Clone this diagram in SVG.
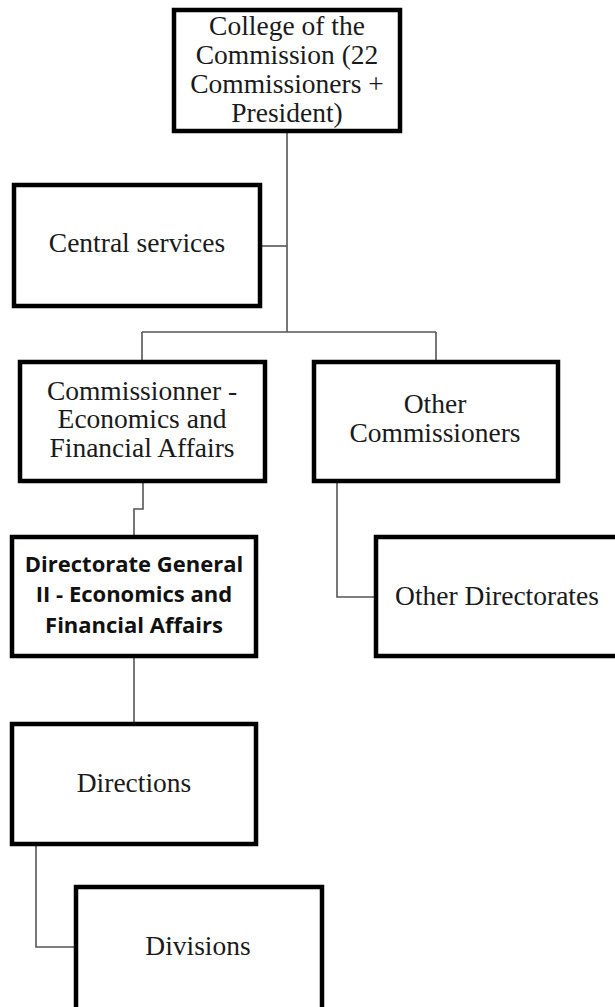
<svg xmlns="http://www.w3.org/2000/svg" width="615" height="1007" viewBox="0 0 615 1007">
<style>
.box{fill:#fff;stroke:#000;stroke-width:4.5}
.t{font-family:"Liberation Serif","Times New Roman",serif;font-size:27.5px;fill:#1a1a1a;text-anchor:middle}
.b{font-family:"Open Sans","Liberation Sans",sans-serif;font-weight:700;font-size:22px;fill:#111;text-anchor:middle}
.c{fill:none;stroke:#555;stroke-width:1.6}
</style>
<rect width="615" height="1007" fill="#fff"/>
<g id="connectors">
<path class="c" d="M287 133V332"/>
<path class="c" d="M262 246H287"/>
<path class="c" d="M142 332H436M142 332V360M436 332V360"/>
<path class="c" d="M143 483V509H134V535"/>
<path class="c" d="M337 483V597H374"/>
<path class="c" d="M134 658V722"/>
<path class="c" d="M36 846V947H74"/>
</g>
<g id="college">
<rect class="box" x="174" y="10" width="226" height="121"/>
<text class="t" x="287" y="35">College of the</text>
<text class="t" x="287" y="64">Commission (22</text>
<text class="t" x="287" y="93">Commissioners +</text>
<text class="t" x="287" y="122">President)</text>
</g>
<g id="central">
<rect class="box" x="14" y="185" width="246" height="121"/>
<text class="t" x="137" y="252">Central services</text>
</g>
<g id="commissioner">
<rect class="box" x="20" y="362" width="245" height="119"/>
<text class="t" x="142" y="400">Commissionner -</text>
<text class="t" x="142" y="428">Economics and</text>
<text class="t" x="142" y="457">Financial Affairs</text>
</g>
<g id="other-commissioners">
<rect class="box" x="314" y="362" width="244" height="119"/>
<text class="t" x="435" y="413">Other</text>
<text class="t" x="435" y="442">Commissioners</text>
</g>
<g id="dg2">
<rect class="box" x="12" y="537" width="244" height="119"/>
<text class="b" x="134" y="572">Directorate General</text>
<text class="b" x="134" y="602">II - Economics and</text>
<text class="b" x="134" y="633">Financial Affairs</text>
</g>
<g id="other-directorates">
<rect class="box" x="376" y="537" width="244" height="119"/>
<text class="t" x="497" y="605">Other Directorates</text>
</g>
<g id="directions">
<rect class="box" x="12" y="724" width="244" height="120"/>
<text class="t" x="134" y="792">Directions</text>
</g>
<g id="divisions">
<rect class="box" x="76" y="887" width="246" height="130"/>
<text class="t" x="198" y="955">Divisions</text>
</g>
</svg>
